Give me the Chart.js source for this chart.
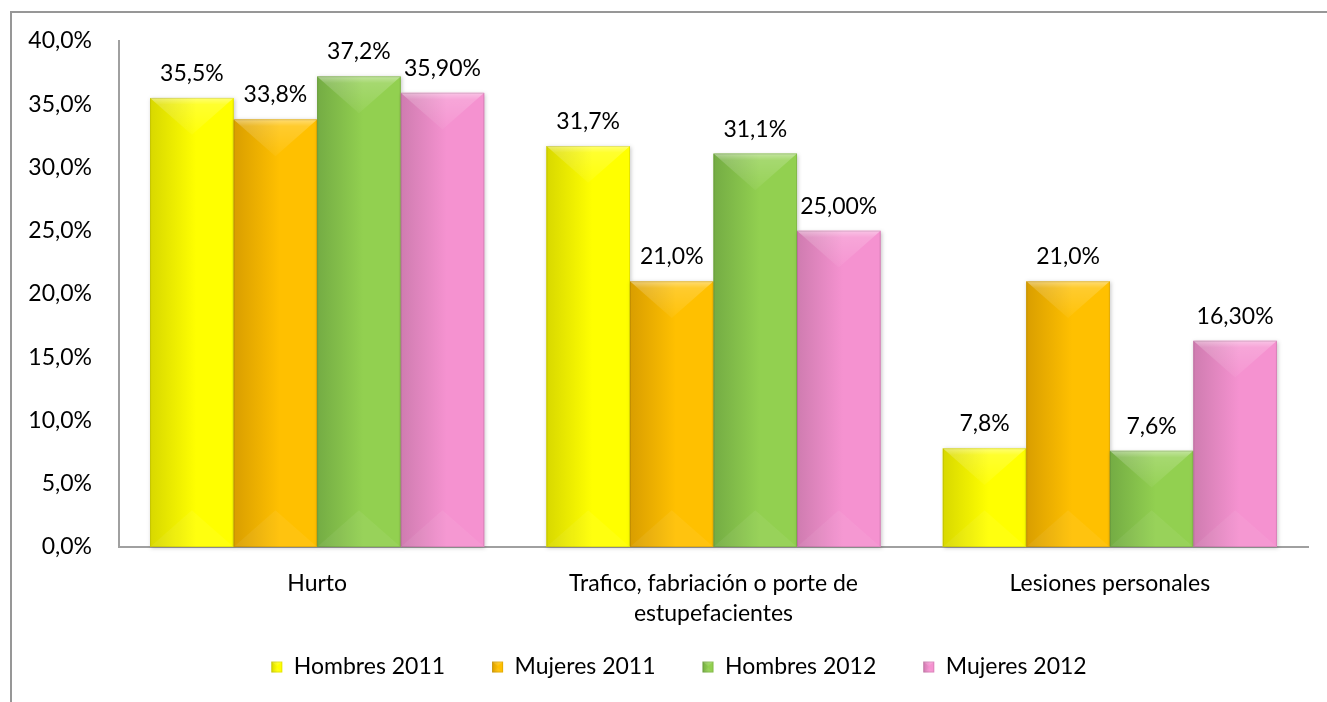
<!DOCTYPE html>
<html><head><meta charset="utf-8">
<script src="https://cdn.jsdelivr.net/npm/chart.js@4.4.0/dist/chart.umd.min.js"></script>
<style>
html,body{margin:0;padding:0;background:#fff;overflow:hidden;width:1327px;height:702px;}
#frame{position:absolute;left:10px;top:11px;width:1400px;height:800px;border-top:2px solid #979797;border-left:2px solid #979797;}
#wrap{position:absolute;left:0;top:0;width:1327px;height:702px;}
</style></head><body>
<div id="frame"></div>
<div id="wrap"><canvas id="c" width="1327" height="702"></canvas></div>
<script>
const categories = ['Hurto', ['Trafico, fabriación o porte de', 'estupefacientes'], 'Lesiones personales'];
const seriesNames = ['Hombres 2011', 'Mujeres 2011', 'Hombres 2012', 'Mujeres 2012'];
const hombres2011 = [35.5, 31.7, 7.8];
const mujeres2011 = [33.8, 21.0, 21.0];
const hombres2012 = [37.2, 31.1, 7.6];
const mujeres2012 = [35.9, 25.0, 16.3];
const labelDecimals = [1, 1, 1, 2];
const yMin = 0, yMax = 40, yStep = 5;

const palette = [
  {base: '#FFFF00', dark: '#D8D800'},
  {base: '#FFC000', dark: '#D99E00'},
  {base: '#92D050', dark: '#74AC44'},
  {base: '#F592D0', dark: '#CF7CB0'}
];
const seriesData = [hombres2011, mujeres2011, hombres2012, mujeres2012];
const FONT = 'Lato, Carlito, Calibri, sans-serif';
const FS = 23;
const LEGEND_PAD = 47;
Chart.defaults.color = '#000';
Chart.defaults.font.family = FONT;

function fmt(v, d) { return v.toFixed(d).replace('.', ',') + '%'; }

function drawBevelRect(ctx, l, t, w, h, pal, shadow) {
  const r = l + w, b = t + h, cx = l + w / 2;
  const d = Math.min(w * 0.44, h / 2);
  ctx.save();
  const g = ctx.createLinearGradient(l, 0, r, 0);
  g.addColorStop(0, pal.dark);
  g.addColorStop(0.55, pal.base);
  g.addColorStop(1, pal.base);
  if (shadow) {
    ctx.shadowColor = 'rgba(0,0,0,0.22)';
    ctx.shadowBlur = 4; ctx.shadowOffsetX = 1; ctx.shadowOffsetY = 1;
  }
  ctx.fillStyle = g;
  ctx.fillRect(l, t, w, h);
  ctx.shadowColor = 'transparent';
  ctx.beginPath(); ctx.moveTo(l, t); ctx.lineTo(r, t); ctx.lineTo(cx, t + d); ctx.closePath();
  const gt = ctx.createLinearGradient(0, t, 0, t + d);
  gt.addColorStop(0, 'rgba(255,255,255,0.45)');
  gt.addColorStop(0.18, 'rgba(255,255,255,0.18)');
  gt.addColorStop(1, 'rgba(255,255,255,0.04)');
  ctx.fillStyle = gt; ctx.fill();
  ctx.beginPath(); ctx.moveTo(l, b); ctx.lineTo(r, b); ctx.lineTo(cx, b - d); ctx.closePath();
  ctx.fillStyle = 'rgba(255,255,255,0.06)'; ctx.fill();
  ctx.strokeStyle = 'rgba(0,0,0,0.10)'; ctx.lineWidth = 1;
  ctx.strokeRect(l + 0.5, t + 0.5, w - 1, h - 1);
  ctx.restore();
}

const bevelPlugin = {
  id: 'bevel',
  afterDatasetsDraw(chart) {
    const ctx = chart.ctx;
    chart.data.datasets.forEach((ds, di) => {
      const meta = chart.getDatasetMeta(di);
      if (meta.hidden) return;
      meta.data.forEach(el => {
        const p = el.getProps(['x', 'y', 'base', 'width'], true);
        const t = Math.min(p.y, p.base), b = Math.max(p.y, p.base);
        drawBevelRect(ctx, p.x - p.width / 2, t, p.width, b - t, palette[di], true);
      });
    });
  }
};

const labelPlugin = {
  id: 'vlabels',
  afterDatasetsDraw(chart) {
    const ctx = chart.ctx;
    ctx.save();
    ctx.font = FS + 'px ' + FONT;
    ctx.fillStyle = '#000';
    ctx.textAlign = 'center';
    ctx.textBaseline = 'alphabetic';
    chart.data.datasets.forEach((ds, di) => {
      const meta = chart.getDatasetMeta(di);
      meta.data.forEach((el, i) => {
        ctx.fillText(fmt(ds.data[i], labelDecimals[di]), el.x, el.y - 17);
      });
    });
    ctx.restore();
  }
};

const legendShift = {
  id: 'legendShift',
  afterLayout(chart) {
    const lg = chart.legend;
    if (!lg) return;
    const dx = 679 - (lg.left + lg.right) / 2;
    lg.left += dx; lg.right += dx;
    lg.top = 667 - LEGEND_PAD - FS / 2;
    lg.bottom = chart.height;
    lg.height = lg.bottom - lg.top;
  },
  afterDraw(chart) {
    const lg = chart.legend;
    if (!lg || !lg.legendHitBoxes) return;
    lg.legendHitBoxes.forEach((hb, i) => {
      const bw = lg.options.labels.boxWidth, bh = lg.options.labels.boxHeight;
      const y = hb.top + (hb.height - bh) / 2;
      chart.ctx.save();
      chart.ctx.fillStyle = '#fff';
      chart.ctx.fillRect(hb.left - 1, y - 1, bw + 2, bh + 2);
      chart.ctx.restore();
      drawBevelRect(chart.ctx, hb.left, y, bw, bh, palette[i], false);
    });
  }
};

new Chart(document.getElementById('c'), {
  type: 'bar',
  data: {
    labels: categories,
    datasets: seriesNames.map((n, i) => ({
      label: n,
      data: seriesData[i],
      backgroundColor: palette[i].base,
      borderWidth: 0,
      barPercentage: 1,
      categoryPercentage: 0.843
    }))
  },
  options: {
    responsive: false,
    animation: false,
    devicePixelRatio: 1,
    layout: {padding: {left: 0, right: 19, top: 41, bottom: 0}},
    plugins: {
      tooltip: {enabled: false},
      legend: {
        position: 'bottom',
        maxHeight: 60,
        labels: {boxWidth: 11, boxHeight: 11, padding: LEGEND_PAD, font: {size: FS, family: FONT}, color: '#000'}
      }
    },
    scales: {
      x: {
        grid: {display: false, drawTicks: false},
        border: {display: true, color: '#A0A0A0', width: 2},
        ticks: {padding: 22, font: {size: FS, family: FONT, lineHeight: 1.3}, color: '#000', maxRotation: 0},
        afterFit(s) { s.height = 95; }
      },
      y: {
        min: yMin, max: yMax,
        grid: {display: false, drawTicks: false},
        border: {display: true, color: '#A0A0A0', width: 2},
        ticks: {stepSize: yStep, padding: 27, font: {size: FS, family: FONT}, color: '#000',
          callback: v => fmt(v, 1)},
        afterFit(s) { s.width = 119; }
      }
    }
  },
  plugins: [bevelPlugin, labelPlugin, legendShift]
});
</script>
</body></html>
